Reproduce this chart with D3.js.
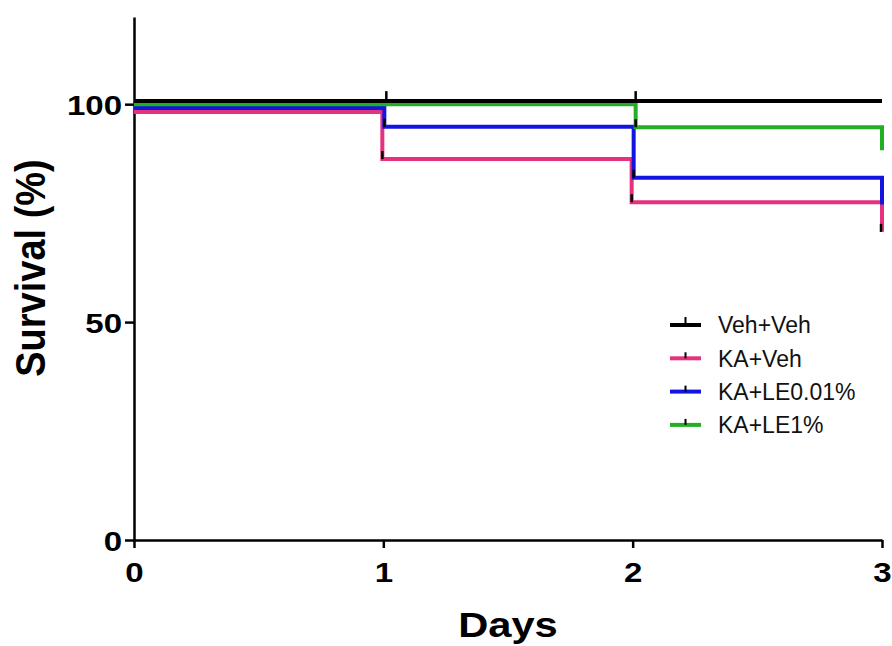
<!DOCTYPE html>
<html>
<head>
<meta charset="utf-8">
<script src="https://cdn.jsdelivr.net/npm/d3@7"></script>
<style>
  body { margin: 0; background: #fff; }
  text { font-family: Arial, "Liberation Sans", sans-serif; }
</style>
</head>
<body>
<div id="chart"></div>
<script>
// datos
var days = [0, 1, 2, 3];
var seriesNames = ["Veh+Veh", "KA+Veh", "KA+LE0.01%", "KA+LE1%"];
var vehVeh = [100.7, 100.7, 100.7, 100.7];
var kaVeh = [98.2, 87.4, 77.5, 70.7];
var kaLE001 = [99.1, 94.8, 83.1, 77.0];
var kaLE1 = [100.0, 100.0, 94.7, 89.4];
// dias con marca de censura
var censVehVeh = [1, 2];
var censKaVeh = [1, 2, 3];
var censKaLE001 = [1, 2];
var censKaLE1 = [2];
var xTicks = [0, 1, 2, 3];
var yTicks = [0, 50, 100];

var colors = ["#000000", "#e6317f", "#1414e0", "#22b022"];
var nudge = [3, -1, 1, 3];   // pequeño desplazamiento horizontal de cada escalon (px)

var width = 892, height = 646;
var margin = {top: 17, right: 10, bottom: 106, left: 134};

var svg = d3.select("#chart").append("svg")
    .attr("width", width)
    .attr("height", height);

// escalas
var eX = d3.scaleLinear().domain([0, 3]).range([margin.left, 882]);
var eY = d3.scaleLinear().domain([0, 120]).range([height - margin.bottom, margin.top]);

// ejes
var xAxis = d3.axisBottom(eX).tickValues(xTicks).tickFormat(d3.format("d"))
    .tickSize(8).tickSizeOuter(0).tickPadding(14);
var yAxis = d3.axisLeft(eY).tickValues(yTicks).tickFormat(d3.format("d"))
    .tickSize(9).tickSizeOuter(0).tickPadding(3);

var gx = svg.append("g")
    .attr("class", "x axis")
    .attr("transform", "translate(0," + eY(0) + ")")
    .call(xAxis);
var gy = svg.append("g")
    .attr("class", "y axis")
    .attr("transform", "translate(" + eX(0) + ",0)")
    .call(yAxis);

svg.selectAll(".axis path, .axis line")
    .attr("stroke", "#000")
    .attr("stroke-width", 2.5);

// etiquetas de los ticks, negrita y algo ensanchadas
gx.selectAll("text")
    .attr("font-size", 28).attr("font-weight", "bold").attr("fill", "#000")
    .attr("transform", "scale(1.18,1)");

gy.selectAll("text")
    .attr("font-size", 28).attr("font-weight", "bold").attr("fill", "#000")
    .attr("dy", "0.36em")
    .attr("x", -12 / 1.18)
    .attr("transform", "scale(1.18,1)");

// titulos de los ejes
svg.append("text")
    .attr("transform", "translate(" + ((eX(0) + eX(3)) / 2) + ",637) scale(1.19,1)")
    .attr("text-anchor", "middle")
    .attr("font-size", 35).attr("font-weight", "bold")
    .text("Days");

svg.append("text")
    .attr("transform", "translate(45,268) scale(1.12,1) rotate(-90)")
    .attr("text-anchor", "middle")
    .attr("font-size", 38).attr("font-weight", "bold")
    .text("Survival (%)");

// curvas de supervivencia escalonadas
var allValues = [vehVeh, kaVeh, kaLE001, kaLE1];
var allCens = [censVehVeh, censKaVeh, censKaLE001, censKaLE1];

function stepPath(vals, dx) {
  var p = "M" + eX(days[0]) + "," + eY(vals[0]);
  for (var i = 1; i < days.length; i++) {
    p += "H" + (eX(days[i]) + (i < days.length - 1 ? dx : 0)) + "V" + eY(vals[i]);
  }
  return p;
}

var curves = svg.selectAll(".curve")
    .data(allValues)
    .enter().append("path")
    .attr("class", "curve")
    .attr("d", function(d, i) { return stepPath(d, nudge[i]); })
    .attr("fill", "none")
    .attr("stroke", function(d, i) { return colors[i]; })
    .attr("stroke-width", 4);

// la negra encima de las de color
curves.filter(function(d, i) { return i == 0; }).raise();

// marcas de censura (tick negro hacia arriba)
allCens.forEach(function(cens, s) {
  svg.selectAll(".cens" + s)
    .data(cens)
    .enter().append("line")
    .attr("x1", function(d) { return eX(d) + (d < 3 ? nudge[s] : -1); })
    .attr("x2", function(d) { return eX(d) + (d < 3 ? nudge[s] : -1); })
    .attr("y1", function(d) { return eY(allValues[s][days.indexOf(d)]); })
    .attr("y2", function(d) { return eY(allValues[s][days.indexOf(d)]) - (s == 0 ? 10 : 8); })
    .attr("stroke", "#000")
    .attr("stroke-width", 2.5);
});

// LEYENDA
var legend = svg.selectAll(".legend")
    .data(seriesNames)
    .enter().append("g")
    .attr("class", "legend")
    .attr("transform", function(d, i) { return "translate(670," + (325 + i * 33.3) + ")"; });

legend.append("line")
    .attr("x1", 0).attr("x2", 31).attr("y1", 0).attr("y2", 0)
    .attr("stroke", function(d, i) { return colors[i]; })
    .attr("stroke-width", 4);

legend.append("line")
    .attr("x1", 15.5).attr("x2", 15.5).attr("y1", 0)
    .attr("y2", function(d, i) { return i == 0 ? -8 : -6; })
    .attr("stroke", "#000")
    .attr("stroke-width", 2);

legend.append("text")
    .attr("x", 48)
    .attr("y", 0)
    .attr("dy", "0.36em")
    .attr("font-size", 23)
    .attr("fill", "#111")
    .text(function(d) { return d; });
</script>
</body>
</html>
